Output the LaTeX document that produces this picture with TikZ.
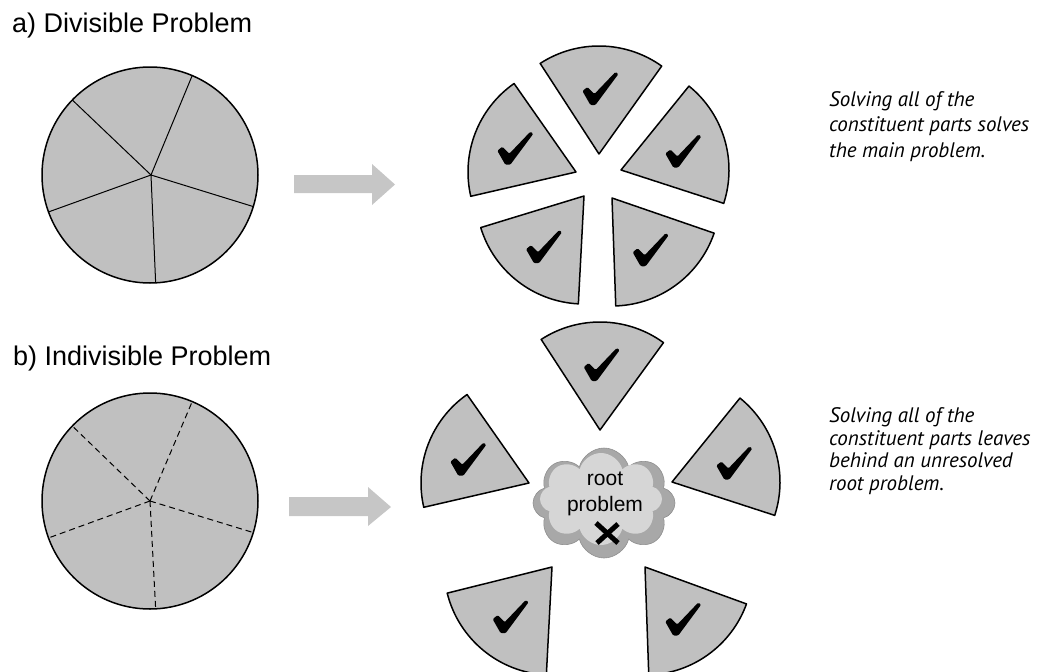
\documentclass[tikz,border=0pt]{standalone}
\usepackage{fontspec}
\setmainfont{Liberation Sans}
\newfontfamily\notefont{PT Sans}
\usetikzlibrary{shapes.symbols}
\definecolor{partgray}{HTML}{C0C0C0}
\definecolor{arrowgray}{HTML}{C6C6C6}
\definecolor{cloudrim}{HTML}{A8A8A8}
\definecolor{cloudcore}{HTML}{D6D6D6}
\tikzset{
  part/.style={fill=partgray, draw=black, line width=1.5pt, line join=round},
  seam/.style={draw=black, line width=1pt},
  dseam/.style={draw=black, line width=1pt, dash pattern=on 6pt off 4pt},
  heading/.style={anchor=base west, inner sep=0pt, font=\fontsize{27}{31}\selectfont},
  note/.style={anchor=base west, inner sep=0pt, align=left, font=\notefont\itshape\fontsize{21}{25.5}\selectfont},
  blockarrow/.style={fill=arrowgray, draw=none},
  % tick drawn in the picture's own y-down units
  checkmark/.pic={
    \fill[black, rounded corners=1.2pt] (-18,2) -- (-13,-2) -- (-6,5) -- (15,-17)
      -- (18,-15) -- (-5,16) -- (-10,16) -- cycle;
  }
}
% one exploded piece: tip position (px, y down), start and end angle (y up)
\newcommand\piece[4]{%
  \begin{scope}[shift={(#1,#2)}, yscale=-1]
    \draw[part] (0,0) -- (#3:108) arc[start angle=#3, end angle=#4, radius=108] -- cycle;
    \pic at ({(#3+#4)/2}:65) {checkmark};
  \end{scope}}
\begin{document}
\begin{tikzpicture}[x=1pt, y=-1pt]
\useasboundingbox (0,0) rectangle (1037,672);
\clip (0,0) rectangle (1037,672);

% ---------- a) divisible problem ----------
\node[heading] (ta) at (12,32) {a) Divisible Problem};

\begin{scope}[shift={(150,175)}, yscale=-1]
  \draw[part] (0,0) circle[radius=108];
  \coordinate (ca) at (1,0);
  \foreach \a in {67,136,200,273,343}
    \draw[seam] (ca) -- (\a:108);
\end{scope}

\fill[blockarrow] (294,175) -- (372,175) -- (372,164) -- (395,184.5)
  -- (372,205) -- (372,193) -- (294,193) -- cycle;

\piece{599}{154}{54.5}{123}
\piece{576}{172}{125}{193}
\piece{621}{170}{-18}{51}
\piece{584}{196}{197}{267}
\piece{612}{198}{-88}{-19}

\node[note] (na) at (829,157) {Solving all of the\\constituent parts solves\\the main problem.};

% ---------- b) indivisible problem ----------
\node[heading] (tb) at (13,365) {b) Indivisible Problem};

\begin{scope}[shift={(150,501)}, yscale=-1]
  \draw[part] (0,0) circle[radius=108];
  \coordinate (cb) at (0,0);
  \foreach \a in {67,136,200,273,343}
    \draw[dseam] (cb) -- (\a:108);
\end{scope}

\fill[blockarrow] (289,497) -- (368,497) -- (368,487) -- (391,507)
  -- (368,526) -- (368,516) -- (289,516) -- cycle;

\piece{600}{430}{54}{123}
\piece{529}{483}{125}{193}
\piece{672}{482}{-18}{51}
\piece{552}{567}{194}{267}
\piece{645}{567}{-88}{-20}

% the root problem cloud
\node[cloud, cloud puffs=8, aspect=1.3, fill=cloudrim, draw=cloudrim!85!black, line width=0.6pt,
      minimum width=142pt, minimum height=110pt, inner sep=0pt] (cloud) at (604,503) {};
\node[cloud, cloud puffs=8, aspect=1.3, fill=cloudcore, draw=none,
      minimum width=122pt, minimum height=92pt, inner sep=0pt] (core) at (601,499) {};
\node[inner sep=0pt, anchor=base, font=\fontsize{21}{26}\selectfont] (root) at (605,485) {root};
\node[inner sep=0pt, anchor=base, font=\fontsize{21}{26}\selectfont] (prob) at (605,511) {problem};
\coordinate (xc) at (607,533);
\draw[black, line width=5pt] ([shift={(-11,-10)}]xc) -- ([shift={(11,10)}]xc);
\draw[black, line width=5pt] ([shift={(-10,10)}]xc) -- ([shift={(11,-9)}]xc);

\node[note, font=\notefont\itshape\fontsize{21}{22.5}\selectfont] (nb) at (829,490)
  {Solving all of the\\constituent parts leaves\\behind an unresolved\\root problem.};
\end{tikzpicture}
\end{document}
